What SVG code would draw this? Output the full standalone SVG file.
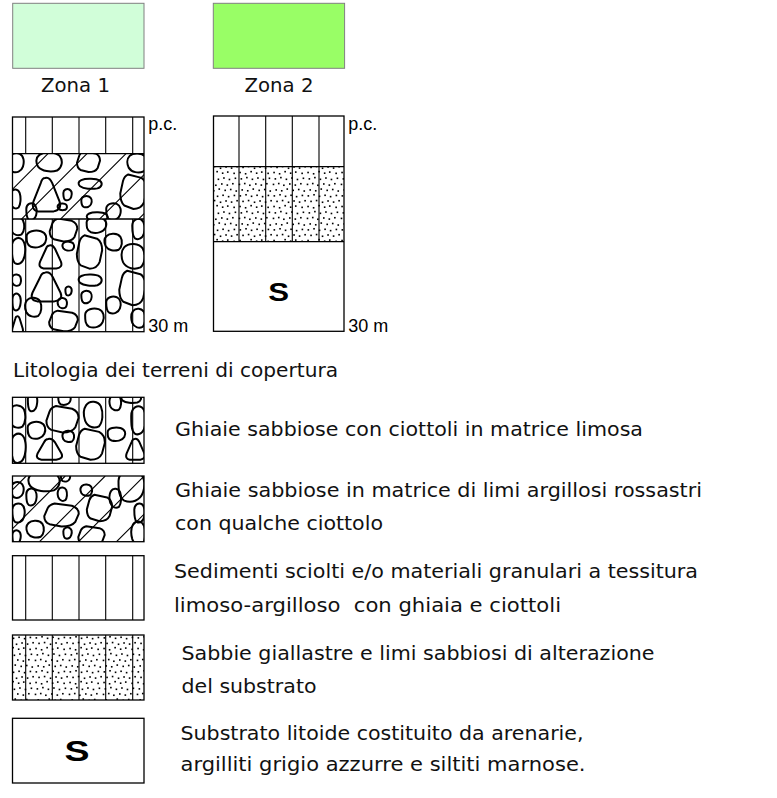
<svg xmlns="http://www.w3.org/2000/svg" width="777" height="798" viewBox="0 0 777 798">
<style>
.t{font-family:"DejaVu Sans","Noto Sans",sans-serif;font-size:19px;fill:#111}
.a{font-family:"Liberation Sans",Arial,sans-serif;font-size:18px;fill:#000}
.s{font-family:"Liberation Sans",Arial,sans-serif;font-weight:bold;text-anchor:middle;fill:#000}
.box{fill:none;stroke:#000;stroke-width:1.3}
.ln{stroke:#000;stroke-width:1.1;fill:none}
.peb{fill:none;stroke:#000;stroke-width:2;stroke-linejoin:round}
.sw{stroke:#808080;stroke-width:1}
</style>
<defs>
<path id="p1" class="peb" vector-effect="non-scaling-stroke" d="M-9.2,-8 C-4.6,-12.6 5.8,-11.5 9.2,-6.9 C12.6,-1.2 11.5,6.9 6.9,10.4 C1.2,12.6 -6.9,11.5 -10.4,5.8 C-12.6,1.2 -12.6,-4.6 -9.2,-8Z"/>
<path id="p2" class="peb" vector-effect="non-scaling-stroke" d="M-1.2,-11.5 Q2.3,-12.6 4.6,-8 L10.4,4.6 Q12.6,10.4 5.8,11.5 L-6.9,11.5 Q-12.6,10.4 -10.4,4.6 L-4.6,-8 Q-3.5,-11.5 -1.2,-11.5Z"/>
<path id="p3" class="peb" vector-effect="non-scaling-stroke" d="M-10.4,-3.5 C-10.4,-10.4 -1.2,-12.6 4.6,-10.4 C10.4,-8 11.5,-1.2 9.2,4.6 C6.9,10.4 0,12.6 -5.8,10.4 C-10.4,8 -10.4,2.3 -10.4,-3.5Z"/>
<path id="p4" class="peb" vector-effect="non-scaling-stroke" d="M-4.6,-11.5 L6.9,-9.2 Q11.5,-6.9 11.5,-1.2 L9.2,6.9 Q6.9,11.5 0,11.5 L-8,9.2 Q-11.5,6.9 -11.5,1.2 L-9.2,-6.9 Q-8,-10.4 -4.6,-11.5Z"/>
<clipPath id="cA"><rect x="0" y="0" width="131.5" height="66"/></clipPath>
<clipPath id="cB"><rect x="0" y="0" width="131.5" height="65.5"/></clipPath>
<clipPath id="cC"><rect x="0" y="0" width="131.5" height="112.7"/></clipPath>
<pattern id="dots" width="40" height="40" patternUnits="userSpaceOnUse" patternTransform="scale(0.85)">
<g fill="#000">
<rect x="1.5" y="2" width="1.9" height="1.9"/><rect x="8" y="3.5" width="1.9" height="1.9"/><rect x="14.5" y="1" width="1.9" height="1.9"/><rect x="21" y="2.8" width="1.9" height="1.9"/><rect x="27" y="1.5" width="1.9" height="1.9"/><rect x="34.5" y="3" width="1.9" height="1.9"/>
<rect x="3" y="9.5" width="1.9" height="1.9"/><rect x="9.5" y="8" width="1.9" height="1.9"/><rect x="16" y="10" width="1.9" height="1.9"/><rect x="22.5" y="8.5" width="1.9" height="1.9"/><rect x="29" y="10.2" width="1.9" height="1.9"/><rect x="36" y="8.8" width="1.9" height="1.9"/>
<rect x="0.8" y="16" width="1.9" height="1.9"/><rect x="7" y="15" width="1.9" height="1.9"/><rect x="13" y="17" width="1.9" height="1.9"/><rect x="20" y="15.5" width="1.9" height="1.9"/><rect x="26.5" y="16.8" width="1.9" height="1.9"/><rect x="33" y="15.2" width="1.9" height="1.9"/>
<rect x="4" y="22.5" width="1.9" height="1.9"/><rect x="10.5" y="23.5" width="1.9" height="1.9"/><rect x="17" y="21.5" width="1.9" height="1.9"/><rect x="24" y="23" width="1.9" height="1.9"/><rect x="30.5" y="22" width="1.9" height="1.9"/><rect x="37" y="23.8" width="1.9" height="1.9"/>
<rect x="1.8" y="29.5" width="1.9" height="1.9"/><rect x="8.5" y="28.2" width="1.9" height="1.9"/><rect x="15" y="30" width="1.9" height="1.9"/><rect x="21.5" y="28.8" width="1.9" height="1.9"/><rect x="28" y="30.4" width="1.9" height="1.9"/><rect x="34.8" y="29" width="1.9" height="1.9"/>
<rect x="5" y="36" width="1.9" height="1.9"/><rect x="11.5" y="35" width="1.9" height="1.9"/><rect x="18.5" y="37" width="1.9" height="1.9"/><rect x="25" y="35.5" width="1.9" height="1.9"/><rect x="31.5" y="36.8" width="1.9" height="1.9"/><rect x="38" y="35.2" width="1.9" height="1.9"/>
</g>
</pattern>
<g id="tileA">
<use href="#p3" transform="translate(20,5) scale(.45,.8)"/>
<use href="#p1" transform="translate(5,19) scale(.7,1)"/>
<use href="#p4" transform="translate(50,22) scale(1.4,1.15)"/>
<use href="#p3" transform="translate(24,33) scale(.85,.75)"/>
<use href="#p1" transform="translate(56,39) scale(.5,.5)"/>
<use href="#p2" transform="translate(37,52) scale(1.15,.9)"/>
<use href="#p3" transform="translate(6,51) scale(.7,1.3)"/>
<use href="#p1" transform="translate(81,17) scale(.8,1.15)"/>
<use href="#p4" transform="translate(78,47) scale(1.25,1.35)"/>
<use href="#p3" transform="translate(104,37) scale(.85,.6)"/>
<use href="#p1" transform="translate(103,5) scale(.5,.7)"/>
<use href="#p3" transform="translate(126,23) scale(.7,1.25)"/>
<use href="#p2" transform="translate(123,52) scale(.85,.9)"/>
<use href="#p1" transform="translate(119,1) scale(.85,.4)"/>
<use href="#p3" transform="translate(52,2) scale(.6,.5)"/>
</g>
<g id="tileB">
<use href="#p3" transform="translate(4,9) scale(.7,.85)"/>
<use href="#p1" transform="translate(37,8) scale(1.1,.85)"/>
<use href="#p4" transform="translate(76,8) scale(1,.9)"/>
<use href="#p1" transform="translate(125,9) scale(.85,.85)"/>
<use href="#p2" transform="translate(34,41) scale(1.25,1.45)"/>
<use href="#p3" transform="translate(55,41) scale(.4,.5)"/>
<use href="#p1" transform="translate(50,53) scale(.4,.3)"/>
<use href="#p1" transform="translate(78,30) scale(1,.45)"/>
<use href="#p3" transform="translate(74,48) scale(.5,.5)"/>
<use href="#p4" transform="translate(121,38) scale(1.15,1.5)"/>
<use href="#p3" transform="translate(101,58) scale(.7,.75)"/>
<use href="#p1" transform="translate(3,45) scale(.45,.85)"/>
<use href="#p3" transform="translate(19,58) scale(.5,.75)"/>
<use href="#p1" transform="translate(85,63) scale(.9,.4)"/>
<path class="ln" d="M-69,65.5 L-3.5,0 M-30,65.5 L35.5,0 M9,65.5 L74.5,0 M48,65.5 L113.5,0 M87,65.5 L152.5,0 M126,65.5 L191.5,0"/>
</g>
<g id="tileD">
<use href="#p3" transform="translate(5,14) scale(.6,.7)"/>
<use href="#p1" transform="translate(32,5) scale(1.35,.9)"/>
<use href="#p3" transform="translate(19,21) scale(.5,.75)"/>
<use href="#p1" transform="translate(50,18) scale(.4,.6)"/>
<use href="#p3" transform="translate(53,1) scale(.45,.4)"/>
<use href="#p1" transform="translate(74,14) scale(.5,.5)"/>
<use href="#p4" transform="translate(49,39) scale(1.5,1)"/>
<use href="#p3" transform="translate(55,57) scale(.4,.5)"/>
<use href="#p1" transform="translate(23,53) scale(.75,.75)"/>
<use href="#p3" transform="translate(6,37) scale(.6,.85)"/>
<use href="#p1" transform="translate(103,22) scale(.5,.85)"/>
<use href="#p3" transform="translate(119,10) scale(1.25,1.4)"/>
<use href="#p4" transform="translate(87,32) scale(1.1,1.15)"/>
<use href="#p3" transform="translate(127,37) scale(.5,.85)"/>
<use href="#p4" transform="translate(79,60) scale(1.15,.85)"/>
<use href="#p1" transform="translate(126,57) scale(.6,1.05)"/>
<use href="#p3" transform="translate(4,61) scale(.4,.6)"/>
<path class="ln" d="M-52,65.7 L13.7,0 M-13,65.7 L52.7,0 M27,65.7 L92.7,0 M66,65.7 L131.7,0 M104,65.7 L169.7,0"/>
</g>
<g id="tileC">
<use href="#p1" transform="translate(5,7) scale(.6,.8)"/>
<use href="#p3" transform="translate(24,20) scale(.95,.75)"/>
<use href="#p4" transform="translate(51,11) scale(1.2,1)"/>
<use href="#p3" transform="translate(84,6) scale(.95,.7)"/>
<use href="#p1" transform="translate(101,23) scale(.75,.75)"/>
<use href="#p3" transform="translate(126,10) scale(.6,.9)"/>
<use href="#p1" transform="translate(56,27) scale(.5,.4)"/>
<use href="#p2" transform="translate(38,38) scale(1,1)"/>
<use href="#p4" transform="translate(77,33) scale(1.1,1.45)"/>
<use href="#p3" transform="translate(6,32) scale(.65,1.15)"/>
<use href="#p1" transform="translate(121,37) scale(1,1.1)"/>
<use href="#p1" transform="translate(4,61) scale(.4,.5)"/>
<use href="#p2" transform="translate(34,68) scale(1.35,1.25)"/>
<use href="#p3" transform="translate(56,72) scale(.3,.4)"/>
<use href="#p1" transform="translate(50,84) scale(.4,.45)"/>
<use href="#p1" transform="translate(78,61) scale(1,.5)"/>
<use href="#p3" transform="translate(74,78) scale(.5,.55)"/>
<use href="#p4" transform="translate(120,69) scale(1.15,1.5)"/>
<use href="#p3" transform="translate(4,83) scale(.4,.75)"/>
<use href="#p1" transform="translate(21,88) scale(.7,.85)"/>
<use href="#p3" transform="translate(101,86) scale(.7,.75)"/>
<use href="#p4" transform="translate(51,102) scale(1.25,.9)"/>
<use href="#p3" transform="translate(82,99) scale(.9,.85)"/>
<use href="#p1" transform="translate(126,99) scale(.6,.85)"/>
<use href="#p2" transform="translate(5,106) scale(.5,.75)"/>
</g>
</defs>

<g id="zona1">
<rect class="sw" x="12.7" y="3.3" width="131.3" height="65" fill="#d1fed9"/>
<text class="t" x="75.5" y="92" text-anchor="middle" textLength="69" lengthAdjust="spacingAndGlyphs">Zona 1</text>
</g>
<g id="zona2">
<rect class="sw" x="213.3" y="3.3" width="131.3" height="65" fill="#99fe66"/>
<text class="t" x="279" y="92" text-anchor="middle" textLength="69" lengthAdjust="spacingAndGlyphs">Zona 2</text>
</g>

<g id="colonna1">
<path class="ln" d="M25.7,117V153.7M52.3,117V153.7M79,117V153.7M105.7,117V153.7M132.7,117V153.7"/>
<g transform="translate(12.5,153.7)" clip-path="url(#cB)"><use href="#tileB"/></g>
<path class="ln" d="M25.7,219V331.7M52.3,219V331.7M79,219V331.7M105.7,219V331.7M132.7,219V331.7"/>
<g transform="translate(12.5,219)" clip-path="url(#cC)"><use href="#tileC"/></g>
<path class="box" d="M12.5,153.7H144M12.5,219H144"/>
<rect class="box" x="12.5" y="117" width="131.5" height="214.7"/>
<text class="a" x="148.3" y="130">p.c.</text>
<text class="a" x="148.3" y="331.7">30 m</text>
</g>

<g id="colonna2">
<rect x="213.5" y="166.7" width="130.5" height="75" fill="url(#dots)"/>
<path class="ln" d="M239,116V241.7M265.7,116V241.7M292.3,116V241.7M319,116V241.7"/>
<path class="box" d="M213.5,166.7H344M213.5,241.7H344"/>
<rect class="box" x="213.5" y="116" width="130.5" height="215.3"/>
<text class="s" font-size="26" transform="translate(278.7,301) scale(1.2,1)">S</text>
<text class="a" x="348.3" y="130">p.c.</text>
<text class="a" x="348.3" y="331.7">30 m</text>
</g>

<text id="titolo" class="t" x="13" y="377" textLength="325" lengthAdjust="spacingAndGlyphs">Litologia dei terreni di copertura</text>

<g id="leg1">
<path class="ln" d="M25.7,397.3V463.3M52.3,397.3V463.3M79,397.3V463.3M105.7,397.3V463.3M132.7,397.3V463.3"/>
<g transform="translate(12.5,397.3)" clip-path="url(#cA)"><use href="#tileA"/></g>
<rect class="box" x="12.5" y="397.3" width="131.5" height="66"/>
<text class="t" x="175" y="436" textLength="468" lengthAdjust="spacingAndGlyphs">Ghiaie sabbiose con ciottoli in matrice limosa</text>
</g>

<g id="leg2">
<g transform="translate(12.5,476)" clip-path="url(#cA)"><use href="#tileD"/></g>
<rect class="box" x="12.5" y="476" width="131.5" height="65.7"/>
<text class="t" x="175" y="497" textLength="527" lengthAdjust="spacingAndGlyphs">Ghiaie sabbiose in matrice di limi argillosi rossastri</text>
<text class="t" x="175" y="530" textLength="208" lengthAdjust="spacingAndGlyphs">con qualche ciottolo</text>
</g>

<g id="leg3">
<path class="ln" d="M25.7,555.7V620M52.3,555.7V620M79,555.7V620M105.7,555.7V620M132.7,555.7V620"/>
<rect class="box" x="12.5" y="555.7" width="131.5" height="64.3"/>
<text class="t" x="174" y="577.5" textLength="524" lengthAdjust="spacingAndGlyphs">Sedimenti sciolti e/o materiali granulari a tessitura</text>
<text class="t" x="174" y="611.5" textLength="387" lengthAdjust="spacingAndGlyphs" xml:space="preserve">limoso-argilloso  con ghiaia e ciottoli</text>
</g>

<g id="leg4">
<rect x="12.5" y="635" width="131.5" height="65" fill="url(#dots)"/>
<path class="ln" d="M25.7,635V700M52.3,635V700M79,635V700M105.7,635V700M132.7,635V700"/>
<rect class="box" x="12.5" y="635" width="131.5" height="65"/>
<text class="t" x="181.5" y="659.5" textLength="473" lengthAdjust="spacingAndGlyphs">Sabbie giallastre e limi sabbiosi di alterazione</text>
<text class="t" x="181.5" y="692.5" textLength="135" lengthAdjust="spacingAndGlyphs">del substrato</text>
</g>

<g id="leg5">
<rect class="box" x="12.5" y="718.3" width="131.5" height="64.7"/>
<text class="s" font-size="30" transform="translate(77,761) scale(1.25,1)">S</text>
<text class="t" x="180.5" y="740" textLength="403" lengthAdjust="spacingAndGlyphs">Substrato litoide costituito da arenarie,</text>
<text class="t" x="180.5" y="771" textLength="405" lengthAdjust="spacingAndGlyphs">argilliti grigio azzurre e siltiti marnose.</text>
</g>

<g id="connettori"></g>
</svg>
